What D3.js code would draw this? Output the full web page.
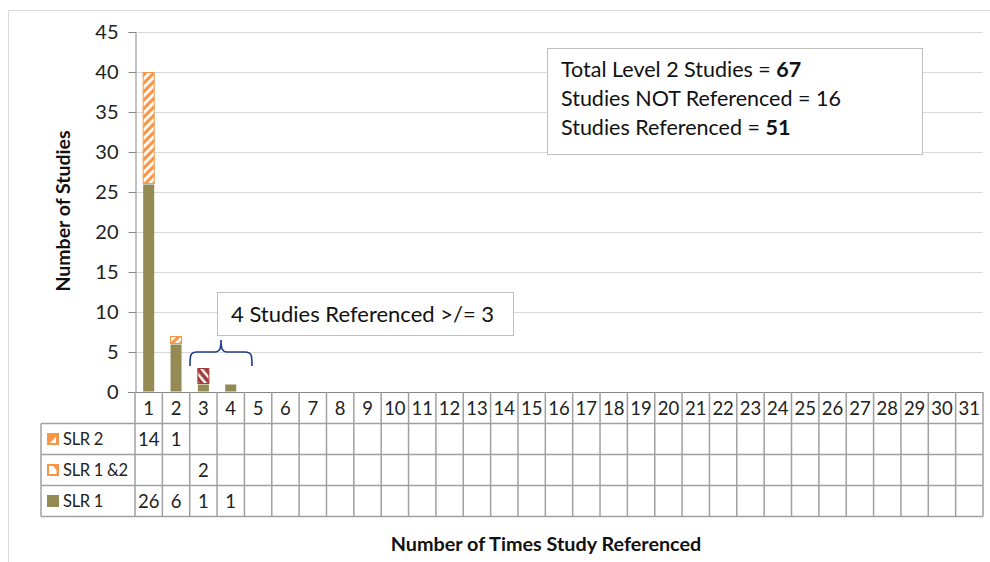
<!DOCTYPE html>
<html><head><meta charset="utf-8">
<script src="https://cdn.jsdelivr.net/npm/d3@7"></script>
<style>body{margin:0;background:#fff;} text{font-family:Lato,"Open Sans",sans-serif;}</style>
</head><body><svg id="c" width="990" height="562"></svg>
<script>
const categories = d3.range(1, 32).map(String);
const seriesNames = ["SLR 2", "SLR 1 &2", "SLR 1"];
const slr1 = [26, 6, 1, 1].concat(d3.range(27).map(() => null));
const slr12 = [null, null, 2, null].concat(d3.range(27).map(() => null));
const slr2 = [14, 1, null, null].concat(d3.range(27).map(() => null));
const yTicks = [0, 5, 10, 15, 20, 25, 30, 35, 40, 45];
const infoLines = [["Total Level 2 Studies = ", "67"], ["Studies NOT Referenced = 16", ""], ["Studies Referenced = ", "51"]];
const noteText = "4 Studies Referenced >/= 3";

(function () {
const svg = d3.select("#c");
const defs = svg.append("defs");
const p2 = defs.append("pattern").attr("id", "pSLR2").attr("patternUnits", "userSpaceOnUse")
  .attr("width", 6).attr("height", 6).attr("patternTransform", "rotate(45)");
p2.append("rect").attr("width", 6).attr("height", 6).attr("fill", "#F79646");
p2.append("rect").attr("width", 2.8).attr("height", 6).attr("fill", "#fff");
const p12 = defs.append("pattern").attr("id", "pSLR12").attr("patternUnits", "userSpaceOnUse")
  .attr("width", 6).attr("height", 6).attr("patternTransform", "rotate(-40)");
p12.append("rect").attr("width", 6).attr("height", 6).attr("fill", "#A33A3A");
p12.append("rect").attr("width", 2.4).attr("height", 6).attr("fill", "#fff");

const colors = {"SLR 1": "#948A54", "SLR 1 &2": "url(#pSLR12)", "SLR 2": "url(#pSLR2)"};
const strokes = {"SLR 1": "none", "SLR 1 &2": "#A33A3A", "SLR 2": "#F79646"};

svg.append("path").attr("d", "M8.5,562 V10.5 H990").attr("fill", "none").attr("stroke", "#D9D9D9");

const pLeft = 135, pRight = 983, pTop = 32, pBottom = 392;
const x = d3.scaleBand().domain(categories).range([pLeft, pRight]).paddingInner(0.56).paddingOuter(0.28);
const xCell = d3.scaleBand().domain(categories).range([pLeft, pRight]);
const y = d3.scaleLinear().domain([0, 45]).range([pBottom, pTop]);

svg.append("g").selectAll("line").data(yTicks.filter(t => t > 0)).join("line")
  .attr("x1", pLeft).attr("x2", pRight).attr("y1", d => y(d) + 0.5).attr("y2", d => y(d) + 0.5)
  .attr("stroke", "#D9D9D9").attr("stroke-width", 1.2);

const yAxis = svg.append("g").attr("transform", `translate(${pLeft + 0.5},0)`)
  .call(d3.axisLeft(y).tickValues(yTicks).tickSize(7).tickPadding(10));
yAxis.select(".domain").attr("stroke", "#868686");
yAxis.selectAll(".tick line").attr("stroke", "#868686");
yAxis.selectAll("text").attr("font-size", 20).attr("fill", "#222").attr("font-family", "Lato");

const rows = categories.map((c, i) => ({cat: c, "SLR 1": slr1[i] || 0, "SLR 1 &2": slr12[i] || 0, "SLR 2": slr2[i] || 0}));
const stack = d3.stack().keys(["SLR 1", "SLR 1 &2", "SLR 2"])(rows);
stack.forEach(layer => {
  svg.append("g").selectAll("rect").data(layer.filter(d => d[1] > d[0])).join("rect")
    .attr("x", d => x(d.data.cat) + 0.5).attr("width", x.bandwidth() - 1)
    .attr("y", d => y(d[1]) + 0.5).attr("height", d => y(d[0]) - y(d[1]) - 1)
    .attr("fill", colors[layer.key]).attr("stroke", strokes[layer.key]).attr("stroke-width", 1);
});

svg.append("line").attr("x1", pLeft - 7).attr("x2", pRight).attr("y1", pBottom + 0.5).attr("y2", pBottom + 0.5)
  .attr("stroke", "#868686").attr("stroke-width", 1.2);

const rowH = 31, headTop = pBottom, headBot = 423.5;
const rowTops = [headBot, headBot + rowH, headBot + 2 * rowH];
const tableBottom = headBot + 3 * rowH;
const legLeft = 41;
const g = svg.append("g").attr("stroke", "#A0A0A0").attr("stroke-width", 1.5);
g.selectAll("line.v").data(d3.range(categories.length + 1)).join("line")
  .attr("x1", i => pLeft + i * xCell.step()).attr("x2", i => pLeft + i * xCell.step())
  .attr("y1", headTop).attr("y2", tableBottom);
g.append("line").attr("x1", legLeft).attr("x2", legLeft).attr("y1", headBot).attr("y2", tableBottom);
[headBot, headBot + rowH, headBot + 2 * rowH, tableBottom].forEach(yy => {
  g.append("line").attr("x1", legLeft).attr("x2", pRight).attr("y1", yy).attr("y2", yy);
});
svg.append("g").selectAll("text").data(categories).join("text")
  .attr("x", d => xCell(d) + xCell.bandwidth() / 2).attr("y", (headTop + headBot) / 2 + 7)
  .attr("text-anchor", "middle").attr("font-size", 18.5).attr("fill", "#222").text(d => d);
const rowData = [slr2, slr12, slr1];
rowData.forEach((arr, r) => {
  svg.append("g").selectAll("text").data(categories).join("text")
    .attr("x", d => xCell(d) + xCell.bandwidth() / 2).attr("y", rowTops[r] + rowH / 2 + 7)
    .attr("text-anchor", "middle").attr("font-size", 18.5).attr("fill", "#222")
    .text((d, i) => arr[i] == null ? "" : arr[i]);
});
seriesNames.forEach((name, r) => {
  const cy = rowTops[r] + rowH / 2;
  const sx = 47, sw = 12;
  if (name === "SLR 1") {
    svg.append("rect").attr("x", sx).attr("y", cy - sw / 2).attr("width", sw).attr("height", sw).attr("fill", "#948A54");
  } else if (name === "SLR 2") {
    svg.append("rect").attr("x", sx + 0.5).attr("y", cy - sw / 2 + 0.5).attr("width", sw - 1).attr("height", sw - 1)
      .attr("fill", "#F79646").attr("stroke", "#F79646");
    svg.append("path").attr("d", `M${sx + 3},${cy + 4} L${sx + 9},${cy - 2} L${sx + 9},${cy + 4} Z`).attr("fill", "#fff");
  } else {
    svg.append("rect").attr("x", sx + 0.5).attr("y", cy - sw / 2 + 0.5).attr("width", sw - 1).attr("height", sw - 1)
      .attr("fill", "#F79646").attr("stroke", "#F79646");
    svg.append("path").attr("d", `M${sx + 2},${cy - 4} L${sx + 6},${cy - 4} L${sx + 9.5},${cy + 0} L${sx + 9.5},${cy + 4} L${sx + 2},${cy + 4} Z`).attr("fill", "#fff");
  }
  svg.append("text").attr("x", 63).attr("y", cy + 6).attr("font-size", 16.5).attr("letter-spacing", -0.3)
    .attr("fill", "#222").text(name);
});

svg.append("text").attr("transform", "translate(70,211) rotate(-90)").attr("text-anchor", "middle")
  .attr("font-size", 19.5).attr("font-weight", "bold").attr("fill", "#111").text("Number of Studies");
svg.append("text").attr("x", 546).attr("y", 551).attr("text-anchor", "middle")
  .attr("font-size", 19.8).attr("font-weight", "bold").attr("fill", "#111").text("Number of Times Study Referenced");

svg.append("rect").attr("x", 547.5).attr("y", 48.5).attr("width", 375).attr("height", 106)
  .attr("fill", "#fff").attr("stroke", "#BFBFBF");
infoLines.forEach((ln, i) => {
  const t = svg.append("text").attr("x", 561).attr("y", 77 + i * 29).attr("font-size", 21.5).attr("fill", "#111");
  t.append("tspan").text(ln[0]);
  if (ln[1]) t.append("tspan").attr("font-weight", "bold").text(ln[1]);
});

svg.append("rect").attr("x", 217.5).attr("y", 292.5).attr("width", 296).attr("height", 43)
  .attr("fill", "#fff").attr("stroke", "#BFBFBF");
svg.append("text").attr("x", 231).attr("y", 322).attr("font-size", 22).attr("fill", "#111").text(noteText);

svg.append("path").attr("d", "M190,366 C190,356 190,352 197,352 L215,352 C220,352 221,348 221,340 C221,348 222,352 227,352 L245,352 C252,352 252,356 252,366")
  .attr("fill", "none").attr("stroke", "#1F3C88").attr("stroke-width", 1.6);
})();
</script></body></html>
